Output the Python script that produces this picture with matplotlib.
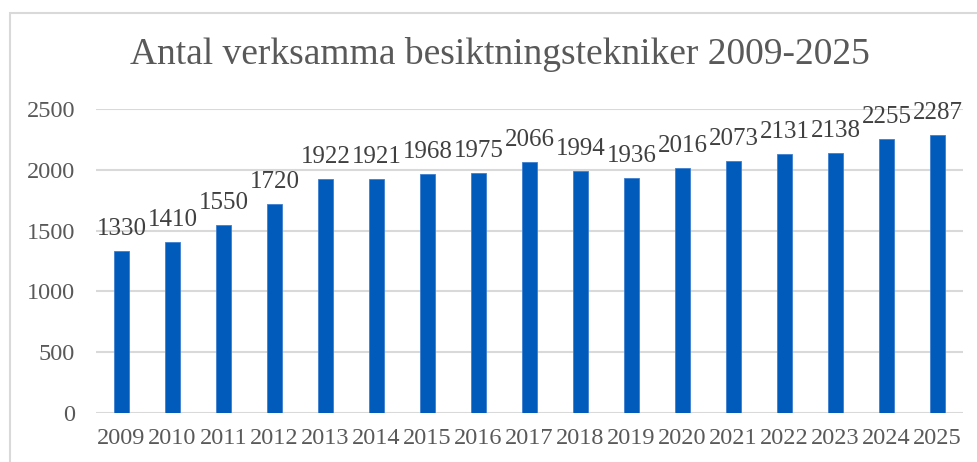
import matplotlib.pyplot as plt
from matplotlib.patches import Rectangle

# data
years = [str(y) for y in range(2009, 2026)]
antal = [1330, 1410, 1550, 1720, 1922, 1921, 1968, 1975, 2066,
         1994, 1936, 2016, 2073, 2131, 2138, 2255, 2287]
yticks = [0, 500, 1000, 1500, 2000, 2500]

plt.rcParams['font.family'] = ['Liberation Serif', 'DejaVu Serif']

fig = plt.figure(figsize=(9.78, 4.62), dpi=100)
ax = fig.add_axes([96/978, 49/462, 867/978, 304/462])

# chart border (cropped at right/bottom like the reference)
fig.patches.append(Rectangle((10/978, -0.1), 1.2, (462-13)/462 + 0.1,
                             transform=fig.transFigure, fill=False,
                             edgecolor='#d9d9d9', lw=1.5, clip_on=False))

x = range(len(years))
ax.bar(x, antal, width=0.31, color='#005bbb', edgecolor='#3f7fd0', linewidth=0.6, zorder=3)

for xi, v in zip(x, antal):
    ax.annotate(str(v), (xi, v), xytext=(0, 11.5), textcoords='offset points',
                ha='center', va='baseline', fontsize=18, color='#404040')

ax.set_xlim(-0.5, len(years) - 0.5)
ax.set_ylim(0, 2500)
ax.set_yticks(yticks)
ax.set_xticks(list(x))
ax.set_xticklabels(years)
ax.tick_params(length=0, labelsize=17.5, labelcolor='#595959')
ax.tick_params(axis='y', pad=15)
ax.tick_params(axis='x', pad=11)
ax.grid(axis='y', color='#d9d9d9', lw=1.5, zorder=0)
for s in ax.spines.values():
    s.set_visible(False)

fig.text(500/978, 1 - 55/462, 'Antal verksamma besiktningstekniker 2009-2025',
         ha='center', va='center', fontsize=27, color='#595959')

fig.savefig('out.png', dpi=100)
